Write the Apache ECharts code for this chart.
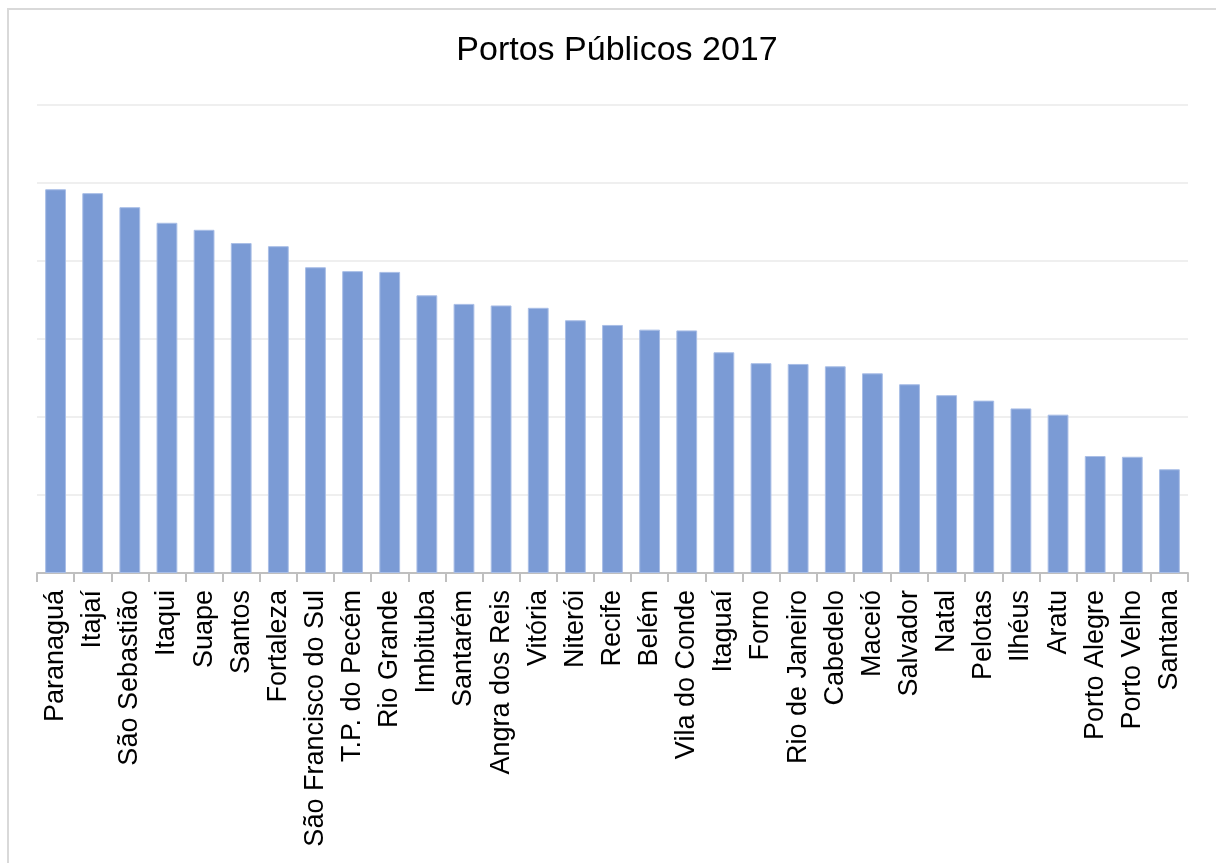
<!DOCTYPE html>
<html>
<head>
<meta charset="utf-8">
<script src="https://cdn.jsdelivr.net/npm/echarts@6/dist/echarts.min.js"></script>
<style>
html,body{margin:0;padding:0;background:#fff;}
#chart{width:1216px;height:863px;}
</style>
</head>
<body>
<div id="chart"></div>
<script>
const titleText = 'Portos Públicos 2017';
const categories = ['Paranaguá','Itajaí','São Sebastião','Itaqui','Suape','Santos','Fortaleza','São Francisco do Sul','T.P. do Pecém','Rio Grande','Imbituba','Santarém','Angra dos Reis','Vitória','Niterói','Recife','Belém','Vila do Conde','Itaguaí','Forno','Rio de Janeiro','Cabedelo','Maceió','Salvador','Natal','Pelotas','Ilhéus','Aratu','Porto Alegre','Porto Velho','Santana'];
const values = [4.92,4.87,4.69,4.49,4.40,4.23,4.19,3.92,3.87,3.86,3.56,3.45,3.43,3.40,3.24,3.18,3.12,3.11,2.83,2.69,2.68,2.65,2.56,2.42,2.28,2.21,2.11,2.03,1.50,1.49,1.33];
const yMin = 0, yMax = 6, yInterval = 1;

const chart = echarts.init(document.getElementById('chart'), null, {renderer:'canvas'});
chart.setOption({
  animation:false,
  backgroundColor:'#ffffff',
  title:{
    text:titleText,
    left:612, top:29, textAlign:'center',
    textStyle:{fontFamily:'Liberation Sans', fontSize:34, fontWeight:'normal', color:'#000'}
  },
  graphic:[{
    type:'rect', silent:true, z:-1,
    shape:{x:8, y:9, width:1230, height:880},
    style:{fill:'none', stroke:'#d9d9d9', lineWidth:2}
  }],
  grid:{left:37, right:28, top:105, bottom:290, containLabel:false},
  xAxis:{
    type:'category', data:categories,
    axisLine:{show:true, lineStyle:{color:'#bfbfbf', width:2}},
    axisTick:{show:true, alignWithLabel:false, length:9, lineStyle:{color:'#bfbfbf', width:2}},
    axisLabel:{rotate:90, interval:0, margin:17, fontFamily:'Liberation Sans', fontSize:27, color:'#000'}
  },
  yAxis:{
    type:'value', min:yMin, max:yMax, interval:yInterval,
    axisLabel:{show:false}, axisLine:{show:false}, axisTick:{show:false},
    splitLine:{show:true, lineStyle:{color:'#efefef', width:2}}
  },
  series:[{
    type:'bar', data:values, barCategoryGap:'44%',
    itemStyle:{color:'#7b9bd5', borderColor:'#a9bee6', borderWidth:1}
  }]
});
</script>
</body>
</html>
